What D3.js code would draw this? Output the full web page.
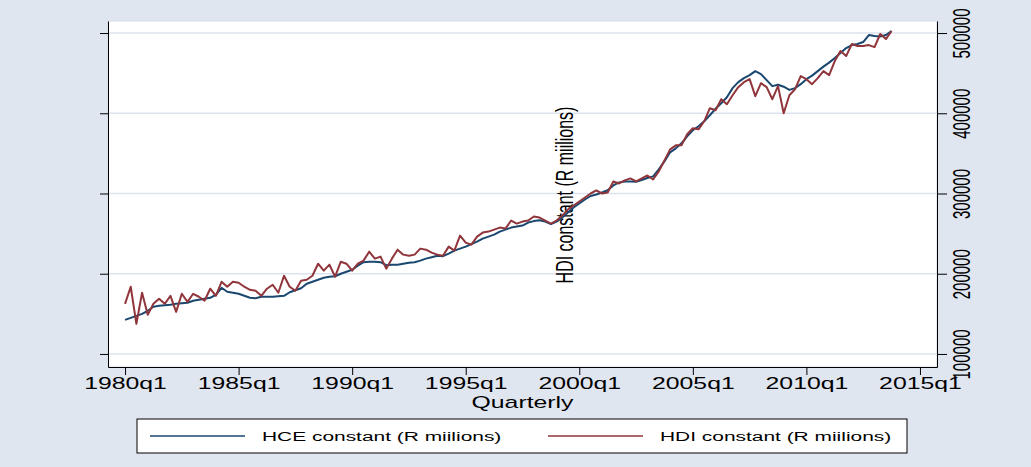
<!DOCTYPE html>
<html>
<head>
<meta charset="utf-8">
<script src="https://cdn.jsdelivr.net/npm/d3@7"></script>
<style>
  body { margin: 0; background: #e0e6f0; }
  svg { display: block; font-family: "Liberation Sans", Arial, sans-serif; }
</style>
</head>
<body>
<svg id="chart" width="1031" height="467"></svg>
<script>
// quarterly series, 1980q1 .. 2013q4 (R millions, constant prices)
var hce = [
  142500, 145000, 147500, 150000, 153800, 158800, 160000, 160600, 161300, 162500, 163100, 163800,
  166300, 167500, 168800, 170000, 173800, 182500, 177500, 176300, 175000, 172500, 170000, 169400,
  171300, 171300, 171300, 171900, 172500, 176900, 179400, 181900, 187500, 190000, 192500, 195000,
  196300, 196900, 200000, 202500, 205000, 210000, 214400, 215000, 215000, 214400, 210600, 211300,
  211300, 212500, 213800, 214400, 216300, 218800, 220600, 222500, 221900, 225000, 228800, 231300,
  233800, 236900, 240000, 243800, 246300, 248800, 252500, 255000, 257500, 258800, 260000, 263800,
  265600, 266600, 265000, 261900, 265000, 270000, 276300, 282500, 287500, 292500, 296900, 298800,
  301300, 304100, 310000, 313800, 315000, 315000, 314600, 316900, 319400, 321300, 330000, 340000,
  351300, 356300, 362500, 371300, 378800, 383800, 390000, 397500, 405600, 412500, 420000, 431300,
  438800, 443800, 447500, 452500, 448800, 441300, 433800, 435600, 433100, 429100, 431300, 436300,
  442500, 446900, 452500, 458100, 463100, 468800, 475000, 481300, 485000, 486300, 488800, 497500,
  496300, 495600, 497500, 502500
];
var hdi = [
  162500, 183800, 137500, 176300, 148800, 162500, 168800, 162500, 172500, 152500, 175000, 165000,
  175000, 171300, 166300, 181300, 172500, 190000, 183800, 190000, 188800, 183800, 180000, 178800,
  172500, 181300, 186300, 176300, 197500, 183800, 178800, 191300, 192500, 197500, 212500, 203800,
  211300, 196300, 215000, 212500, 203800, 212500, 216300, 227500, 218800, 221300, 206300, 218800,
  230000, 223800, 222500, 223800, 231300, 230000, 226300, 223800, 222500, 233800, 228800, 247500,
  238800, 236300, 246300, 251300, 252500, 255000, 257500, 256300, 266300, 262500, 265000, 266300,
  271300, 270000, 266300, 262500, 266300, 272500, 280000, 285000, 290000, 295000, 300000, 303800,
  300000, 301300, 315000, 312500, 316300, 318800, 315000, 318800, 322500, 317500, 327500, 341300,
  355000, 360000, 360000, 373800, 381300, 380000, 390000, 406300, 403800, 417500, 411300, 422500,
  432500, 438800, 442500, 421300, 437500, 432500, 417500, 433800, 400000, 422500, 430000, 446300,
  442500, 436300, 443800, 452500, 447500, 465000, 477500, 471300, 486300, 483800, 483800, 485000,
  482500, 498800, 492500, 502500
];
var xTickQuarters = [0, 20, 40, 60, 80, 100, 120, 140];
var xTickLabels = ["1980q1", "1985q1", "1990q1", "1995q1", "2000q1", "2005q1", "2010q1", "2015q1"];
var yTicks = [100000, 200000, 300000, 400000, 500000];
var seriesNames = ["HCE constant (R miilions)", "HDI constant (R miilions)"];
var seriesColors = ["#1a476f", "#90353b"];

var svg = d3.select("#chart");
var stretch = 1.55;   // the original picture is widened horizontally
var plotL = 108, plotR = 937, plotT = 21, plotB = 367;

svg.append("rect").attr("width", 1031).attr("height", 467).attr("fill", "#e0e6f0");
svg.append("rect")
  .attr("x", plotL).attr("y", plotT)
  .attr("width", plotR - plotL).attr("height", plotB - plotT)
  .attr("fill", "#fff").attr("stroke", "#d5dce8");

var x = d3.scaleLinear().domain([-3, 143]).range([plotL, plotR]);
var y = d3.scaleLinear().domain([83750, 515000]).range([plotB, plotT]);

// gridlines
svg.append("g").selectAll("line")
  .data(yTicks)
  .enter().append("line")
  .attr("x1", plotL).attr("x2", plotR)
  .attr("y1", function(d) { return y(d); })
  .attr("y2", function(d) { return y(d); })
  .attr("stroke", "#dde3ee").attr("stroke-width", 1.5);

// left axis: ticks only
var gl = svg.append("g").attr("transform", "translate(" + plotL + ",0)")
  .call(d3.axisLeft(y).tickValues(yTicks).tickSize(8).tickSizeOuter(0).tickFormat(""));
gl.select(".domain").attr("stroke", "#000");

// right axis
var gr = svg.append("g").attr("transform", "translate(" + plotR + ",0)")
  .call(d3.axisRight(y).tickValues(yTicks).tickSize(10).tickSizeOuter(0).tickFormat(d3.format("d")));
gr.select(".domain").attr("stroke", "#000");
gr.selectAll("text")
  .attr("x", 0).attr("y", 0).attr("dy", "0.35em")
  .attr("text-anchor", "middle")
  .attr("font-size", 15).attr("fill", "#000")
  .attr("transform", "translate(25,0) scale(" + stretch + ",1) rotate(-90)");

// bottom axis
var gb = svg.append("g").attr("transform", "translate(0," + plotB + ")")
  .call(d3.axisBottom(x).tickValues(xTickQuarters).tickSize(8).tickSizeOuter(0)
    .tickFormat(function(d, i) { return xTickLabels[i]; }));
gb.select(".domain").attr("stroke", "#000");
gb.selectAll("text")
  .attr("y", 11).attr("font-size", 16).attr("fill", "#000")
  .attr("transform", "scale(" + stretch + ",1)");

svg.append("text")
  .attr("transform", "translate(" + ((plotL + plotR) / 2) + ",408) scale(" + stretch + ",1)")
  .attr("text-anchor", "middle").attr("font-size", 16)
  .text("Quarterly");

// misplaced axis title as in the original
svg.append("text")
  .attr("transform", "translate(573,195) scale(" + stretch + ",1) rotate(-90)")
  .attr("text-anchor", "middle").attr("font-size", 16)
  .text(seriesNames[1]);

// lines
var line = d3.line()
  .x(function(d, i) { return x(i); })
  .y(function(d) { return y(d); });

[hce, hdi].forEach(function(s, k) {
  svg.append("path")
    .datum(s)
    .attr("d", line)
    .attr("fill", "none")
    .attr("stroke", seriesColors[k])
    .attr("stroke-width", 2)
    .attr("stroke-linejoin", "round");
});

// legend
var lg = svg.append("g");
lg.append("rect")
  .attr("x", 137).attr("y", 419).attr("width", 770).attr("height", 34)
  .attr("fill", "#fff").attr("stroke", "#000");
var legendX = [150, 548];
seriesNames.forEach(function(n, k) {
  lg.append("line")
    .attr("x1", legendX[k]).attr("x2", legendX[k] + 95)
    .attr("y1", 436).attr("y2", 436)
    .attr("stroke", seriesColors[k]).attr("stroke-width", 1.5);
  lg.append("text")
    .attr("transform", "translate(" + (legendX[k] + 112) + ",441) scale(" + stretch + ",1)")
    .attr("font-size", 13.5)
    .text(n);
});
</script>
</body>
</html>
